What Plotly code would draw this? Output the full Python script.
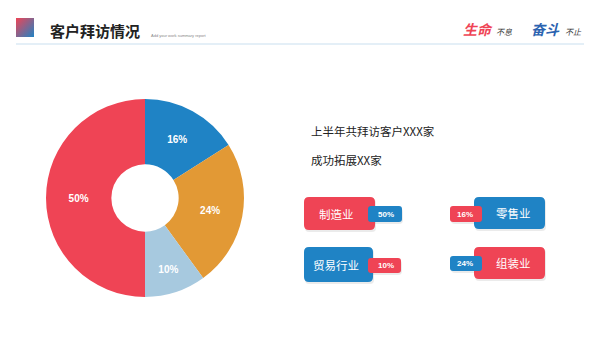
import plotly.graph_objects as go
import base64

# ---- data ----
categories = ["零售业", "组装业", "贸易行业", "制造业"]
values = [16, 24, 10, 50]
slice_colors = ["#1f83c5", "#e29935", "#a7c9df", "#ef4455"]

card_labels = ["制造业", "零售业", "贸易行业", "组装业"]
card_values = ["50%", "16%", "10%", "24%"]
title_text = "客户拜访情况"
subtitle_text = "Add your work summary report"
line1 = "上半年共拜访客户XXX家"
line2 = "成功拓展XX家"

RED = "#ef4455"
BLUE = "#1f83c5"
CJK = "Noto Sans CJK SC"

fig = go.Figure()

fig.add_trace(go.Pie(
    labels=categories, values=values, sort=False, direction="clockwise", rotation=0,
    hole=0.34, marker=dict(colors=slice_colors, line=dict(width=0)),
    texttemplate="%{percent:.0%}", textposition="inside", insidetextorientation="horizontal",
    textfont=dict(color="white", size=10, family="Liberation Sans, Arial", weight="bold"),
    domain=dict(x=[46/600, 244/600], y=[1-297/338, 1-99/338]),
    showlegend=False, hoverinfo="label+percent",
))

def rrect(x0, y0, x1, y1, r):
    return (f"M{x0+r},{y0} L{x1-r},{y0} Q{x1},{y0} {x1},{y0+r} L{x1},{y1-r} Q{x1},{y1} {x1-r},{y1} "
            f"L{x0+r},{y1} Q{x0},{y1} {x0},{y1-r} L{x0},{y0+r} Q{x0},{y0} {x0+r},{y0} Z")

shapes = []
annotations = []

# header line
shapes.append(dict(type="line", x0=16, x1=584, y0=44, y1=44, xref="x", yref="y",
                   line=dict(color="#dbeaf4", width=1.5)))

# cards: (big box, small box, big colour, small colour, small on right?)
cards = [
    ((304, 197, 375, 230), (368, 206, 402, 222), RED, BLUE),
    ((474, 197, 545, 229), (450, 206, 482, 222), BLUE, RED),
    ((304, 247, 373, 282), (368, 258, 401, 273), BLUE, RED),
    ((474, 247, 545, 279), (450, 256, 482, 271), RED, BLUE),
]
for i, (big, small, cbig, csmall) in enumerate(cards):
    # shadows
    for b in (big, small):
        shapes.append(dict(type="path", path=rrect(b[0]+1, b[1]+2, b[2]+1, b[3]+2, 4),
                           xref="x", yref="y", fillcolor="rgba(0,0,0,0.08)", line=dict(width=0)))
    shapes.append(dict(type="path", path=rrect(*big, 5), xref="x", yref="y",
                       fillcolor=cbig, line=dict(width=0)))
    shapes.append(dict(type="path", path=rrect(*small, 3), xref="x", yref="y",
                       fillcolor=csmall, line=dict(width=0)))
    # big label: centred in visible part of big box
    if small[0] > big[0] + 20:
        bx = (big[0] + small[0]) / 2
    else:
        bx = (small[2] + big[2]) / 2
    annotations.append(dict(x=bx, y=(big[1]+big[3])/2, xref="x", yref="y", text=card_labels[i],
                            showarrow=False, font=dict(family=CJK, size=11.5, color="white")))
    annotations.append(dict(x=(small[0]+small[2])/2 + (1 if small[0] > big[0] + 20 else -1),
                            y=(small[1]+small[3])/2, xref="x", yref="y",
                            text=card_values[i], showarrow=False,
                            font=dict(family="Liberation Sans, Arial", size=8, color="white", weight="bold")))

# title & texts
annotations += [
    dict(x=48, y=30, xref="x", yref="y", text=title_text, xanchor="left", showarrow=False,
         font=dict(family=CJK, size=15, color="#222222", weight="bold")),
    dict(x=149, y=35, xref="x", yref="y", text=subtitle_text, xanchor="left", showarrow=False,
         font=dict(family="Liberation Sans, Arial", size=4, color="#888888")),
    dict(x=461, y=29, xref="x", yref="y", text="<i><b>生命</b></i>", xanchor="left", showarrow=False,
         font=dict(family=CJK, size=14, color=RED)),
    dict(x=494, y=31, xref="x", yref="y", text="<i>不息</i>", xanchor="left", showarrow=False,
         font=dict(family=CJK, size=8, color="#333333")),
    dict(x=529, y=29, xref="x", yref="y", text="<i><b>奋斗</b></i>", xanchor="left", showarrow=False,
         font=dict(family=CJK, size=14, color="#2b63b0")),
    dict(x=563, y=31, xref="x", yref="y", text="<i>不止</i>", xanchor="left", showarrow=False,
         font=dict(family=CJK, size=8, color="#333333")),
    dict(x=309, y=131, xref="x", yref="y", text=line1, xanchor="left", showarrow=False,
         font=dict(family=CJK, size=11.5, color="#222222")),
    dict(x=309, y=160, xref="x", yref="y", text=line2, xanchor="left", showarrow=False,
         font=dict(family=CJK, size=11.5, color="#222222")),
]

svg = ('<svg xmlns="http://www.w3.org/2000/svg" width="18" height="19"><defs>'
       '<linearGradient id="g" x1="0" y1="0" x2="1" y2="1">'
       '<stop offset="0" stop-color="#ef4455"/><stop offset="1" stop-color="#1f83c5"/>'
       '</linearGradient></defs><rect width="18" height="19" fill="url(#g)"/></svg>')
src = "data:image/svg+xml;base64," + base64.b64encode(svg.encode()).decode()

fig.update_layout(
    width=600, height=338, margin=dict(l=0, r=0, t=0, b=0),
    paper_bgcolor="white", plot_bgcolor="white",
    xaxis=dict(range=[0, 600], visible=False, fixedrange=True),
    yaxis=dict(range=[338, 0], visible=False, fixedrange=True),
    shapes=shapes, annotations=annotations,
    images=[dict(source=src, xref="x", yref="y", x=16, y=18, sizex=18, sizey=19,
                 sizing="stretch", xanchor="left", yanchor="top", layer="above")],
    showlegend=False,
)

fig.write_html("out.html")
